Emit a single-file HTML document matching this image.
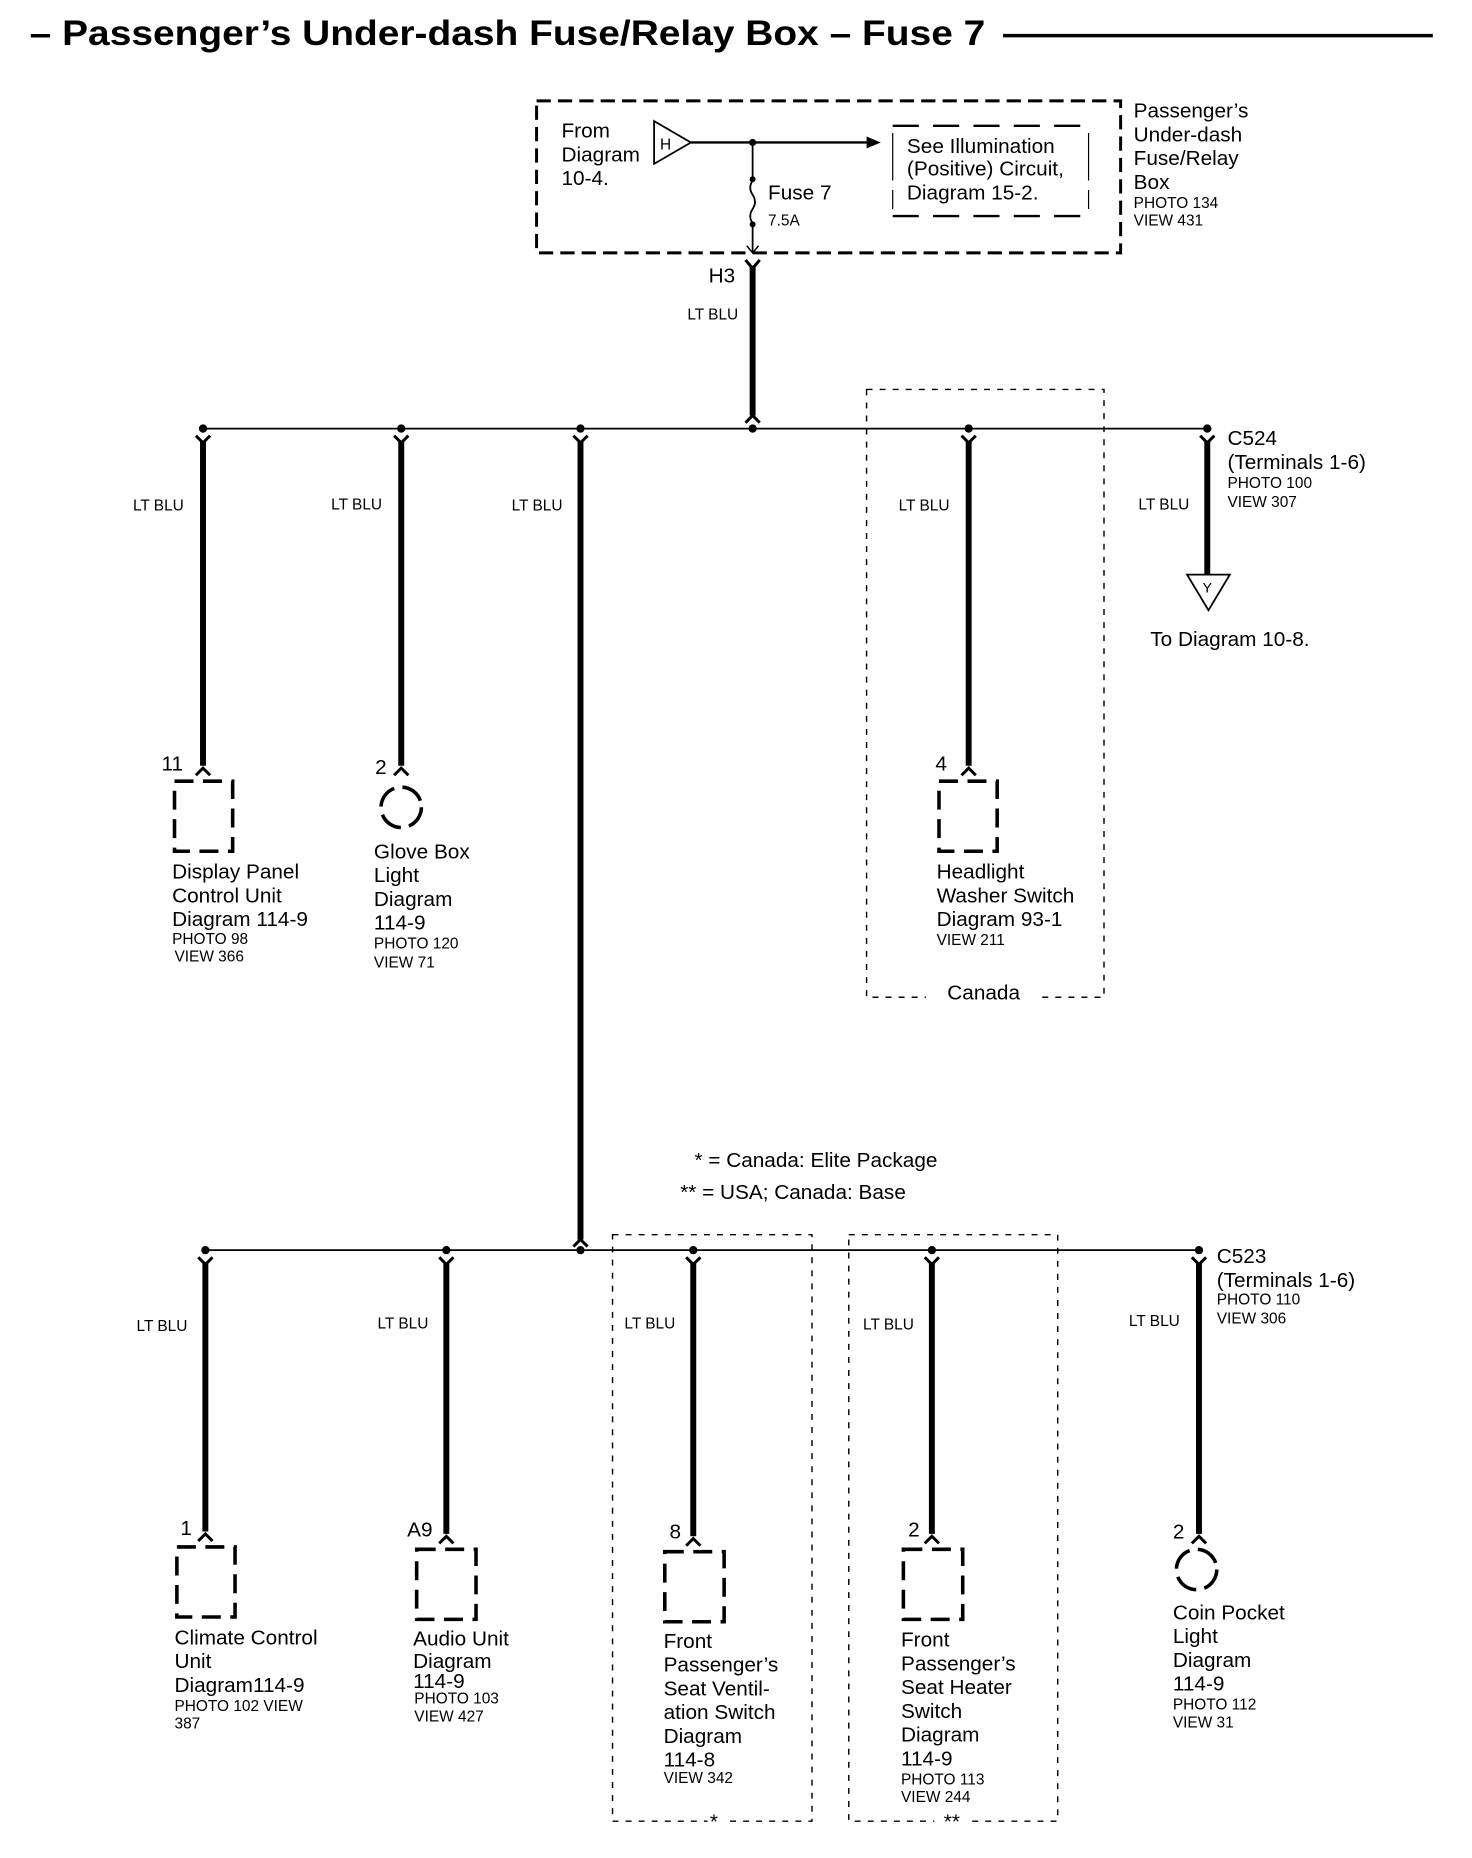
<!DOCTYPE html>
<html><head><meta charset="utf-8"><style>
html,body{margin:0;padding:0;background:#fff;}
svg{display:block;}
text{font-family:"Liberation Sans",Arial,sans-serif;fill:#000;}
.t{font-size:17.5px;}
.s{font-size:13px;}
</style></head><body>
<svg width="1472" height="1858" viewBox="0 0 1240 1565" preserveAspectRatio="none" xmlns="http://www.w3.org/2000/svg">
<text x="25" y="38" font-size="30" font-weight="bold" textLength="805" lengthAdjust="spacingAndGlyphs">– Passenger’s Under-dash Fuse/Relay Box – Fuse 7</text>
<line x1="845" y1="30" x2="1207" y2="30" stroke="#000" stroke-width="3"/>

<rect x="452" y="85" width="492" height="128" fill="none" stroke="#000" stroke-width="2.5" stroke-dasharray="12,6"/>
<text class="t" x="473" y="116">From</text>
<text class="t" x="473" y="136">Diagram</text>
<text class="t" x="473" y="156">10-4.</text>
<polygon points="551,102 582,120 551,138" fill="#fff" stroke="#000" stroke-width="1.5"/>
<text x="556" y="126" font-size="13">H</text>
<line x1="582" y1="120" x2="732" y2="120" stroke="#000" stroke-width="2"/>
<polygon points="742,120 730,115 730,125" fill="#000"/>
<circle cx="634" cy="120" r="3" fill="#000"/>
<line x1="634" y1="120" x2="634" y2="150" stroke="#000" stroke-width="1.5"/>
<circle cx="634" cy="151" r="2.5" fill="#000"/>
<path d="M634,152 q-4,6 0,12 q4,6 0,12 q-4,6 0,12" fill="none" stroke="#000" stroke-width="1.5"/>
<circle cx="634" cy="189" r="2.5" fill="#000"/>
<line x1="634" y1="189" x2="634" y2="213" stroke="#000" stroke-width="1.5"/>
<path d="M629,207 L634,213 L639,207" fill="none" stroke="#000" stroke-width="1.2"/>
<text class="t" x="647" y="168">Fuse 7</text>
<text class="s" x="647" y="190" font-size="12">7.5A</text>
<line x1="752" y1="106" x2="917" y2="106" stroke="#000" stroke-width="2" stroke-dasharray="22,12"/>
<line x1="752" y1="182" x2="917" y2="182" stroke="#000" stroke-width="2" stroke-dasharray="22,12"/>
<line x1="752" y1="112" x2="752" y2="176" stroke="#000" stroke-width="1" stroke-dasharray="40,8"/>
<line x1="917" y1="112" x2="917" y2="176" stroke="#000" stroke-width="1" stroke-dasharray="40,8"/>
<text class="t" x="764" y="129">See  Illumination</text>
<text class="t" x="764" y="148">(Positive) Circuit,</text>
<text class="t" x="764" y="168">Diagram 15-2.</text>
<text class="t" x="955" y="99">Passenger’s</text>
<text class="t" x="955" y="119">Under-dash</text>
<text class="t" x="955" y="139">Fuse/Relay</text>
<text class="t" x="955" y="159">Box</text>
<text class="s" x="955" y="175">PHOTO 134</text>
<text class="s" x="955" y="190">VIEW 431</text>

<text class="t" x="597" y="238">H3</text>
<path d="M628,219 L634,226 L640,219" fill="none" stroke="#000" stroke-width="2.5"/>
<line x1="634" y1="224" x2="634" y2="350" stroke="#000" stroke-width="5"/>
<path d="M628,356 L634,350 L640,356" fill="none" stroke="#000" stroke-width="2.5"/>
<text class="s" x="579" y="269">LT BLU</text>

<line x1="171" y1="361" x2="1017" y2="361" stroke="#000" stroke-width="1.5"/>
<g fill="#000">
<circle cx="171" cy="361" r="3.5"/><circle cx="338" cy="361" r="3.5"/><circle cx="489" cy="361" r="3.5"/>
<circle cx="634" cy="361" r="3.5"/><circle cx="816" cy="361" r="3.5"/><circle cx="1017" cy="361" r="3.5"/>
</g>
<g fill="none" stroke="#000" stroke-width="2.5">
<path d="M165,367 L171,373 L177,367"/><path d="M332,367 L338,373 L344,367"/><path d="M483,367 L489,373 L495,367"/>
<path d="M810,367 L816,373 L822,367"/><path d="M1011,367 L1017,373 L1023,367"/>
</g>
<g stroke="#000" stroke-width="5">
<line x1="171" y1="371" x2="171" y2="645"/>
<line x1="338" y1="371" x2="338" y2="645"/>
<line x1="489" y1="371" x2="489" y2="1044"/>
<line x1="816" y1="371" x2="816" y2="645"/>
<line x1="1017" y1="371" x2="1017" y2="485"/>
</g>
<g fill="none" stroke="#000" stroke-width="2.5">
<path d="M165,653 L171,647 L177,653"/><path d="M332,653 L338,647 L344,653"/><path d="M810,653 L816,647 L822,653"/>
<path d="M483,1050 L489,1044 L495,1050"/>
</g>
<text class="s" x="112" y="430">LT BLU</text>
<text class="s" x="279" y="429">LT BLU</text>
<text class="s" x="431" y="430">LT BLU</text>
<text class="s" x="757" y="430">LT BLU</text>
<text class="s" x="959" y="429">LT BLU</text>

<text class="t" x="136" y="649">11</text>
<rect x="147" y="658" width="49" height="59" fill="none" stroke="#000" stroke-width="3" stroke-dasharray="16,8"/>
<text class="t" x="145" y="740">Display Panel</text>
<text class="t" x="145" y="760">Control Unit</text>
<text class="t" x="145" y="780">Diagram 114-9</text>
<text class="s" x="145" y="795">PHOTO 98</text>
<text class="s" x="147" y="810">VIEW 366</text>
<text class="t" x="316" y="652">2</text>
<circle cx="338" cy="680" r="17" fill="none" stroke="#000" stroke-width="3" stroke-dasharray="20,7"/>
<text class="t" x="315" y="723">Glove Box</text>
<text class="t" x="315" y="743">Light</text>
<text class="t" x="315" y="763">Diagram</text>
<text class="t" x="315" y="783">114-9</text>
<text class="s" x="315" y="799">PHOTO 120</text>
<text class="s" x="315" y="815">VIEW 71</text>
<rect x="730" y="328" width="200" height="512" fill="none" stroke="#000" stroke-width="1.2" stroke-dasharray="5,6"/>
<rect x="780" y="826" width="95" height="22" fill="#fff"/>
<text class="t" x="798" y="842">Canada</text>
<text class="t" x="788" y="649">4</text>
<rect x="791" y="658" width="49" height="59" fill="none" stroke="#000" stroke-width="3" stroke-dasharray="16,8"/>
<text class="t" x="789" y="740">Headlight</text>
<text class="t" x="789" y="760">Washer Switch</text>
<text class="t" x="789" y="780">Diagram 93-1</text>
<text class="s" x="789" y="796">VIEW 211</text>
<text class="t" x="1034" y="375">C524</text>
<text class="t" x="1034" y="395">(Terminals 1-6)</text>
<text class="s" x="1034" y="411">PHOTO 100</text>
<text class="s" x="1034" y="427">VIEW 307</text>
<polygon points="1000,484 1036,484 1018,514" fill="#fff" stroke="#000" stroke-width="1.5"/>
<text x="1013" y="499" font-size="12">Y</text>
<text class="t" x="969" y="544">To Diagram 10-8.</text>

<text class="t" x="585" y="983">* = Canada: Elite Package</text>
<text class="t" x="573" y="1010">** = USA; Canada: Base</text>

<line x1="173" y1="1053" x2="1010" y2="1053" stroke="#000" stroke-width="1.5"/>
<g fill="#000">
<circle cx="173" cy="1053" r="3.5"/><circle cx="376" cy="1053" r="3.5"/><circle cx="489" cy="1053" r="3.5"/>
<circle cx="584" cy="1053" r="3.5"/><circle cx="785" cy="1053" r="3.5"/><circle cx="1010" cy="1053" r="3.5"/>
</g>
<g fill="none" stroke="#000" stroke-width="2.5">
<path d="M167,1059 L173,1065 L179,1059"/><path d="M370,1059 L376,1065 L382,1059"/><path d="M578,1059 L584,1065 L590,1059"/>
<path d="M779,1059 L785,1065 L791,1059"/><path d="M1004,1059 L1010,1065 L1016,1059"/>
</g>
<g stroke="#000" stroke-width="5">
<line x1="173" y1="1063" x2="173" y2="1290"/>
<line x1="376" y1="1063" x2="376" y2="1292"/>
<line x1="584" y1="1063" x2="584" y2="1294"/>
<line x1="785" y1="1063" x2="785" y2="1292"/>
<line x1="1010" y1="1063" x2="1010" y2="1292"/>
</g>
<g fill="none" stroke="#000" stroke-width="2.5">
<path d="M167,1298 L173,1292 L179,1298"/><path d="M370,1300 L376,1294 L382,1300"/><path d="M578,1302 L584,1296 L590,1302"/>
<path d="M779,1300 L785,1294 L791,1300"/><path d="M1004,1300 L1010,1294 L1016,1300"/>
</g>
<text class="s" x="115" y="1121">LT BLU</text>
<text class="s" x="318" y="1119">LT BLU</text>
<text class="s" x="526" y="1119">LT BLU</text>
<text class="s" x="727" y="1120">LT BLU</text>
<text class="s" x="951" y="1117">LT BLU</text>

<text class="t" x="152" y="1293">1</text>
<rect x="149" y="1303" width="49" height="59" fill="none" stroke="#000" stroke-width="3" stroke-dasharray="16,8"/>
<text class="t" x="147" y="1385">Climate Control</text>
<text class="t" x="147" y="1405">Unit</text>
<text class="t" x="147" y="1425">Diagram114-9</text>
<text class="s" x="147" y="1441">PHOTO 102 VIEW</text>
<text class="s" x="147" y="1456">387</text>
<text class="t" x="343" y="1294">A9</text>
<rect x="351" y="1305" width="50" height="59" fill="none" stroke="#000" stroke-width="3" stroke-dasharray="16,8"/>
<text class="t" x="348" y="1386">Audio Unit</text>
<text class="t" x="348" y="1405">Diagram</text>
<text class="t" x="348" y="1422">114-9</text>
<text class="s" x="349" y="1435">PHOTO 103</text>
<text class="s" x="349" y="1450">VIEW 427</text>
<rect x="516" y="1040" width="168" height="494" fill="none" stroke="#000" stroke-width="1.2" stroke-dasharray="5,6"/>
<rect x="596" y="1526" width="16" height="14" fill="#fff"/>
<text class="t" x="598" y="1540">*</text>
<text class="t" x="564" y="1296">8</text>
<rect x="560" y="1307" width="50" height="59" fill="none" stroke="#000" stroke-width="3" stroke-dasharray="16,8"/>
<text class="t" x="559" y="1388">Front</text>
<text class="t" x="559" y="1408">Passenger’s</text>
<text class="t" x="559" y="1428">Seat Ventil-</text>
<text class="t" x="559" y="1448">ation Switch</text>
<text class="t" x="559" y="1468">Diagram</text>
<text class="t" x="559" y="1488">114-8</text>
<text class="s" x="559" y="1502">VIEW 342</text>
<rect x="715" y="1040" width="176" height="494" fill="none" stroke="#000" stroke-width="1.2" stroke-dasharray="5,6"/>
<rect x="787" y="1526" width="30" height="14" fill="#fff"/>
<text class="t" x="795" y="1540">**</text>
<text class="t" x="765" y="1294">2</text>
<rect x="761" y="1305" width="50" height="59" fill="none" stroke="#000" stroke-width="3" stroke-dasharray="16,8"/>
<text class="t" x="759" y="1387">Front</text>
<text class="t" x="759" y="1407">Passenger’s</text>
<text class="t" x="759" y="1427">Seat Heater</text>
<text class="t" x="759" y="1447">Switch</text>
<text class="t" x="759" y="1467">Diagram</text>
<text class="t" x="759" y="1487">114-9</text>
<text class="s" x="759" y="1503">PHOTO 113</text>
<text class="s" x="759" y="1518">VIEW 244</text>
<text class="t" x="988" y="1296">2</text>
<circle cx="1008" cy="1322" r="17" fill="none" stroke="#000" stroke-width="3" stroke-dasharray="20,7"/>
<text class="t" x="988" y="1364">Coin Pocket</text>
<text class="t" x="988" y="1384">Light</text>
<text class="t" x="988" y="1404">Diagram</text>
<text class="t" x="988" y="1424">114-9</text>
<text class="s" x="988" y="1440">PHOTO 112</text>
<text class="s" x="988" y="1455">VIEW 31</text>
<text class="t" x="1025" y="1064">C523</text>
<text class="t" x="1025" y="1084">(Terminals 1-6)</text>
<text class="s" x="1025" y="1099">PHOTO 110</text>
<text class="s" x="1025" y="1115">VIEW 306</text>
</svg>
</body></html>
